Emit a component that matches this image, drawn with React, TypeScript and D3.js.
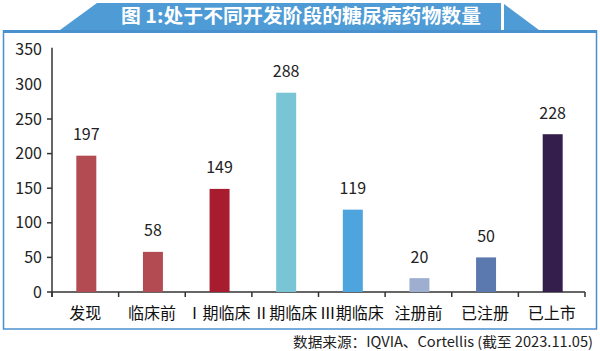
import React from "react";
import * as d3 from "d3";

const categories = ["发现", "临床前", "Ⅰ期临床", "Ⅱ期临床", "Ⅲ期临床", "注册前", "已注册", "已上市"];
const values = [197, 58, 149, 288, 119, 20, 50, 228];
const barColors = ["#B24B52", "#B24B52", "#A71D2F", "#7AC5D5", "#4EA4DC", "#9DAED0", "#5B79AF", "#341E4B"];
const yTicks = [0, 50, 100, 150, 200, 250, 300, 350];
const yTicksWithMark = [0, 50, 100, 150, 200, 250];
const title = "图 1:处于不同开发阶段的糖尿病药物数量";
const source = "数据来源：IQVIA、Cortellis (截至 2023.11.05)";

const W = 600;
const H = 351;
const left = 52;
const right = 585;
const y0 = 292;

export default function App() {
  const y = d3.scaleLinear().domain([0, 350]).range([y0, y0 - 350 * 0.692]);
  const x = d3.scaleBand<string>().domain(categories).range([left, right]).paddingInner(0.7).paddingOuter(0.35);
  const edges = d3.range(categories.length + 1).map((i) => left + i * x.step());
  const font = "'Noto Sans CJK SC', 'Noto Sans', sans-serif";
  const blue = "#4E9BD5";
  return (
    <svg width={W} height={H} style={{ position: "absolute", left: 0, top: 0, background: "#fff" }} fontFamily={font}>
      {/* title tab */}
      <path d="M60,30 L97,3 L501,3 L501,30 Z" fill={blue} />
      <path d="M504,4 L504,30 L539,30 Z" fill={blue} />
      <rect x={3} y={30} width={594} height={3} fill="#4A90CF" />
      <rect x={3.5} y={31} width={593} height={298} fill="none" stroke="#4A90CF" strokeWidth={1.5} />
      <text x={301} y={23} textAnchor="middle" fill="#fff" fontSize={19} fontWeight="bold" textLength={360} lengthAdjust="spacingAndGlyphs">
        {title}
      </text>
      {/* axes */}
      <line x1={left} x2={left} y1={y(350) - 2} y2={y0 + 5} stroke="#333" strokeWidth={1.5} />
      <line x1={left} x2={right} y1={y0} y2={y0} stroke="#333" strokeWidth={1.5} />
      {yTicksWithMark.map((t) => (
        <line key={"yt" + t} x1={left - 5} x2={left} y1={y(t)} y2={y(t)} stroke="#333" strokeWidth={1.5} />
      ))}
      {yTicks.map((t) => (
        <text key={"yl" + t} x={42} y={y(t)} dy="0.35em" textAnchor="end" fontSize={16} fill="#222">
          {t}
        </text>
      ))}
      {edges.map((e, i) => (
        <line key={"xt" + i} x1={e} x2={e} y1={y0} y2={y0 + 5} stroke="#333" strokeWidth={1.5} />
      ))}
      {categories.map((c, i) => (
        <g key={c}>
          <rect x={x(c)! + 1} y={y(values[i])} width={x.bandwidth()} height={y0 - y(values[i])} fill={barColors[i]} />
          <text x={x(c)! + 1 + x.bandwidth() / 2} y={y(values[i]) - 21} dy="0.35em" textAnchor="middle" fontSize={16} fill="#222">
            {values[i]}
          </text>
          <text x={x(c)! + x.bandwidth() / 2} y={313} dy="0.35em" textAnchor="middle" fontSize={16} fill="#111">
            {c}
          </text>
        </g>
      ))}
      <text x={293} y={342} dy="0.35em" textAnchor="start" fontSize={14} fill="#222" textLength={300} lengthAdjust="spacingAndGlyphs">
        {source}
      </text>
    </svg>
  );
}
